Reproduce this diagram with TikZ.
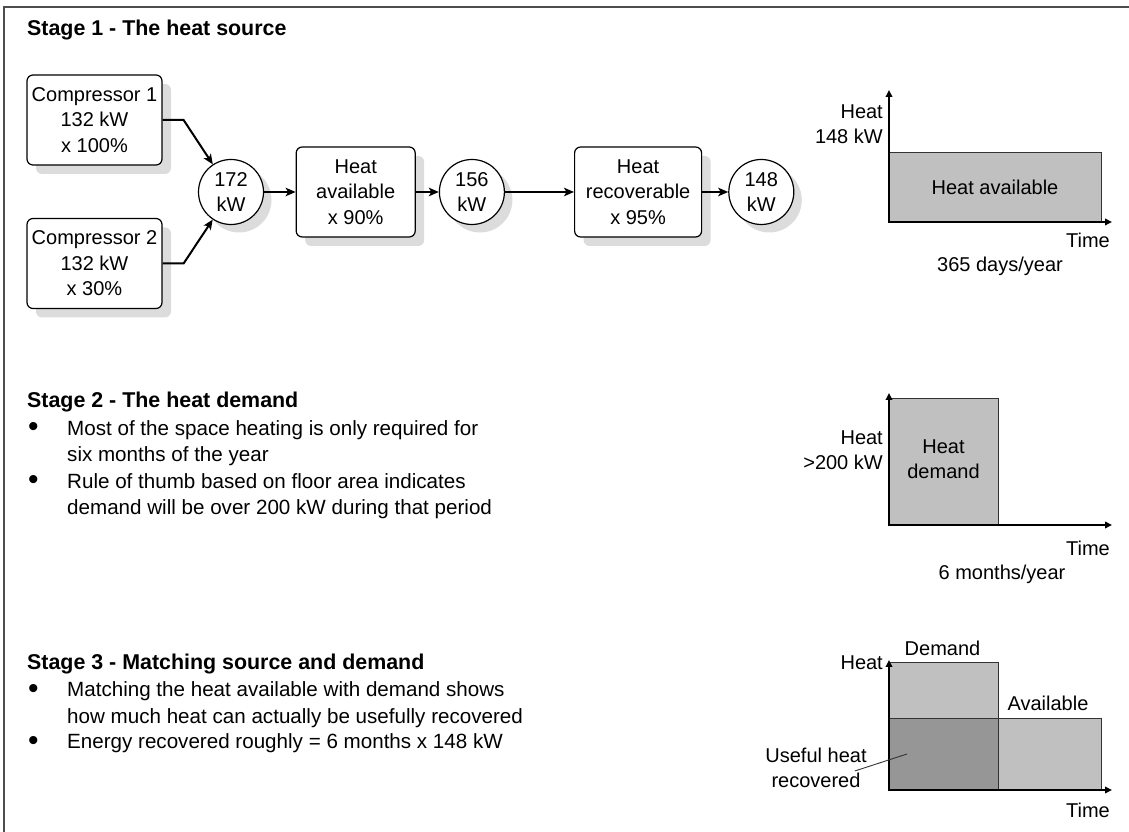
\documentclass[tikz,border=0pt]{standalone}
\usepackage{fontspec}
\setmainfont{Liberation Sans}
\usetikzlibrary{arrows.meta,positioning,shadows}
\definecolor{cink}{HTML}{000000}
\definecolor{cframe}{HTML}{4D4D4D}
\definecolor{cshadow}{HTML}{DCDCDC}
\definecolor{cfill}{HTML}{C0C0C0}
\definecolor{cfilldark}{HTML}{969696}
\definecolor{cedge}{HTML}{333333}

\newcommand{\bodyfont}{\fontsize{20.6}{26.5}\selectfont}
\newcommand{\boxfont}{\fontsize{20}{25.5}\selectfont}
\newcommand{\headfont}{\fontsize{21.4}{26}\selectfont\bfseries}
\newcommand{\bul}{\makebox[40pt][l]{\hspace{1pt}\raisebox{-1.5pt}{\fontsize{30}{30}\selectfont\textbullet}}}
\newcommand{\ind}{\hspace*{40pt}}

\begin{document}
\begin{tikzpicture}[
    x=1pt, y=1pt,
    font=\boxfont,
    flow/.style={-{Stealth[length=10pt,width=8.5pt,inset=2.5pt]},line width=2pt,line join=miter},
    axis/.style={{Triangle[length=7pt,width=6.5pt]}-{Triangle[length=7pt,width=6.5pt]},
        line width=2.5pt,line join=miter},
    pointer/.style={line width=0.9pt,cedge},
    procbox/.style={
        rounded corners=6pt, draw=cink, line width=1.2pt, fill=white,
        minimum height=90pt, align=center, inner sep=2pt,
        drop shadow={shadow xshift=9pt,shadow yshift=-9pt,fill=cshadow,opacity=1},
    },
    flowval/.style={
        circle, draw=cink, line width=1.2pt, fill=white,
        minimum size=65pt, inner sep=0pt, align=center,
        drop shadow={shadow xshift=8pt,shadow yshift=-8pt,fill=cshadow,opacity=1},
    },
    sechead/.style={font=\headfont,anchor=west,inner sep=0pt},
    bullets/.style={font=\bodyfont,anchor=west,align=left,inner sep=0pt},
    annot/.style={font=\boxfont,inner sep=0pt},
    bar/.style={draw=cedge,line width=1pt,fill=cfill},
]
\useasboundingbox (0,0) rectangle (1129,832);

% ============================================================
% FRAME
% ============================================================
\draw[cframe,line width=1.5pt] (4,0) -- (4,825) -- (1129,825);

% ============================================================
% STAGE 1: heat source chain
% ============================================================
\node[sechead] (s1head) at (27,802) {Stage 1 - The heat source};

\node[procbox, minimum width=135pt] (comp1) at (94.5,712) {Compressor 1\\132 kW\\x 100\%};
\node[procbox, minimum width=135pt] (comp2) at (94.5,568.5) {Compressor 2\\132 kW\\x 30\%};

\node[flowval] (kw172) at (231,640) {172\\kW};
\draw[flow] (comp1.east) -- ++(21,0) -- (kw172);
\draw[flow] (comp2.east) -- ++(21,0) -- (kw172);

\node[procbox, minimum width=119pt, right=31.5pt of kw172] (avail) {Heat\\available\\x 90\%};
\draw[flow] (kw172) -- (avail);

\node[flowval, right=23pt of avail] (kw156) {156\\kW};
\draw[flow] (avail) -- (kw156);

\node[procbox, minimum width=127pt, right=69pt of kw156] (recov) {Heat\\recoverable\\x 95\%};
\draw[flow] (kw156) -- (recov);

\node[flowval, right=26pt of recov] (kw148) {148\\kW};
\draw[flow] (recov) -- (kw148);

% Graph: heat available all year
\draw[bar] (889,610) rectangle (1101,679);
\node[annot] (g1bar) at (995,644.5) {Heat available};
\coordinate (g1o) at (889,610);
\draw[axis] (889,742) -- (g1o) -- (1112,610);
\node[annot,anchor=east,align=right] (g1y) at (883,708) {Heat\\148 kW};
\node[annot,anchor=east] (g1x) at (1110,592) {Time};
\node[annot] (g1span) at (1000,566) {365 days/year};

% ============================================================
% STAGE 2: heat demand
% ============================================================
\node[sechead] (s2head) at (27,430) {Stage 2 - The heat demand};
\node[bullets] (s2a) at (27,389) {\bul Most of the space heating is only required for\\\ind six months of the year};
\node[bullets] (s2b) at (27,336) {\bul Rule of thumb based on floor area indicates\\\ind demand will be over 200 kW during that period};

% Graph: demand for six months
\draw[bar] (889,307) rectangle (998,433);
\node[annot,align=center] (g2bar) at (943.5,373) {Heat\\demand};
\coordinate (g2o) at (889,307);
\draw[axis] (889,439) -- (g2o) -- (1112,307);
\node[annot,anchor=east,align=right] (g2y) at (883,382) {Heat\\>200 kW};
\node[annot,anchor=east] (g2x) at (1110,284) {Time};
\node[annot] (g2span) at (1002,258) {6 months/year};

% ============================================================
% STAGE 3: matching
% ============================================================
\node[sechead] (s3head) at (27,168) {Stage 3 - Matching source and demand};
\node[bullets] (s3a) at (27,127.5) {\bul Matching the heat available with demand shows\\\ind how much heat can actually be usefully recovered};
\node[bullets] (s3b) at (27,88.5) {\bul Energy recovered roughly = 6 months x 148 kW};

% Graph: overlap of demand and available
\draw[bar] (889,42) rectangle (998,169);
\draw[bar] (889,42) rectangle (1101,113);
\draw[bar,fill=cfilldark] (889,42) rectangle (998,113);
\coordinate (g3o) at (889,42);
\draw[axis] (889,172) -- (g3o) -- (1112,42);
\node[annot] (g3dem) at (942.5,184) {Demand};
\node[annot] (g3av) at (1048,129) {Available};
\node[annot,anchor=east] (g3y) at (883,169) {Heat};
\node[annot,anchor=east] (g3x) at (1110,22) {Time};

\node[annot,align=center] (useful) at (816,64) {Useful heat\\recovered};
\coordinate (usefulpt) at (907,78);
\draw[pointer] ([xshift=-12pt,yshift=-3pt]useful.east) -- (usefulpt);

\end{tikzpicture}
\end{document}
